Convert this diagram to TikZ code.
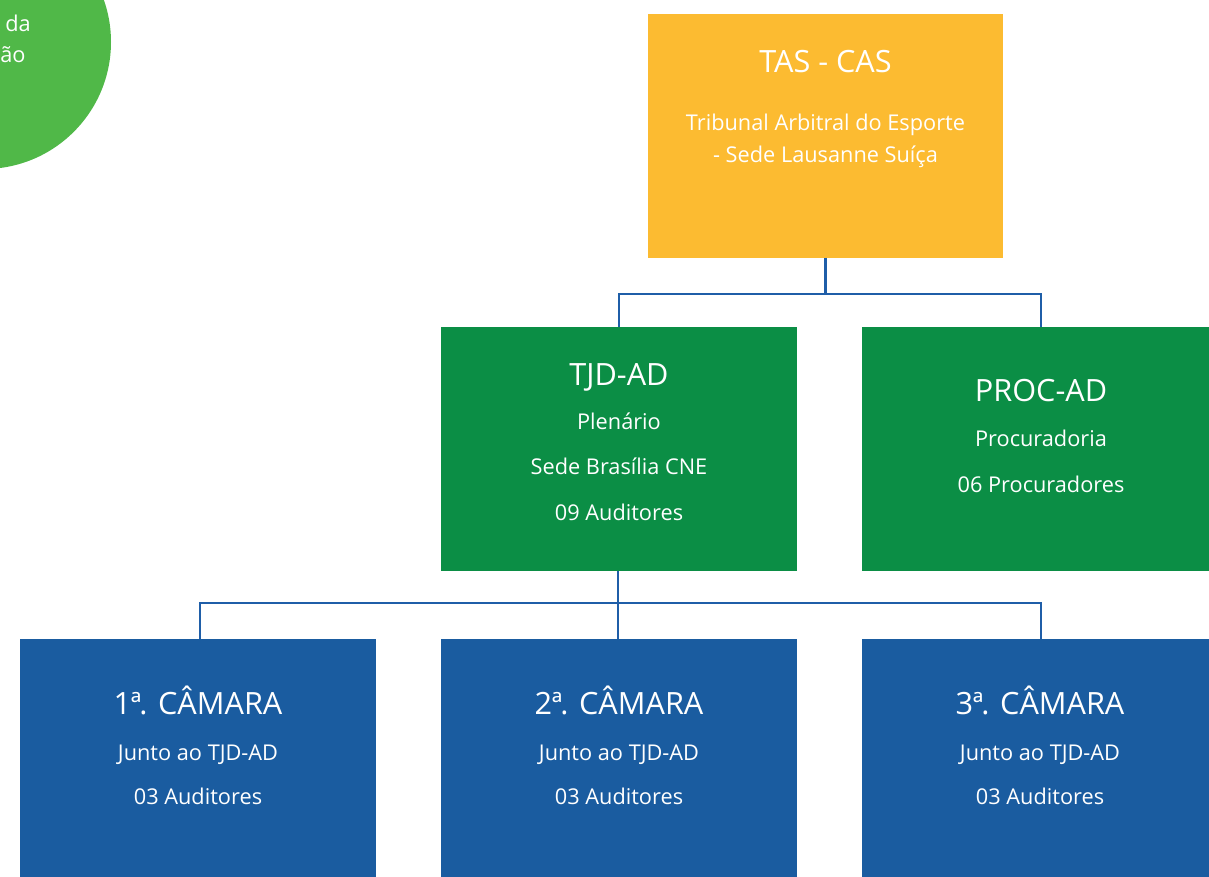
\documentclass[tikz,border=0pt]{standalone}
\usepackage{fontspec}
\setmainfont{Open Sans}
\definecolor{casyel}{HTML}{FCBB31}
\definecolor{tjdgreen}{HTML}{0B8E45}
\definecolor{camblue}{HTML}{1A5CA0}
\definecolor{circgreen}{HTML}{50B848}
\definecolor{linkblue}{HTML}{1F5EA8}
\newcommand{\ordA}{\kern-0.5pt ª\kern-1.5pt}
\begin{document}
\begin{tikzpicture}[x=0.75pt,y=-0.75pt,
  title/.style={text=white,inner sep=0pt,anchor=base,font=\fontsize{23}{26}\selectfont},
  sub/.style={text=white,inner sep=0pt,anchor=base,font=\fontsize{16.3}{19}\selectfont},
  link/.style={draw=linkblue,line width=2.2pt}]
\useasboundingbox (0,0) rectangle (1209,877);
\begin{scope}
\clip (0,0) rectangle (1209,877);
% green circle
\fill[circgreen] (-16,42) circle (127);
\node[sub,anchor=base east] (cda) at (31,32) {da};
\node[sub,anchor=base west] (cao) at (0,63) {ão};
% boxes
\fill[casyel] (648,14) rectangle (1003,258);
\coordinate (tasB) at (825.5,258);
\fill[tjdgreen] (441,327) rectangle (797,571);
\coordinate (tjdT) at (619,327);
\coordinate (tjdB) at (618,571);
\fill[tjdgreen] (862,327) rectangle (1218,571);
\coordinate (procT) at (1041,327);
\fill[camblue] (20,639) rectangle (376,900);
\coordinate (c1T) at (200,639);
\fill[camblue] (441,639) rectangle (797,900);
\coordinate (c2T) at (618,639);
\fill[camblue] (862,639) rectangle (1218,900);
\coordinate (c3T) at (1041,639);
% connectors
\coordinate (j1) at (825.5,294);
\coordinate (j2) at (618,603);
\draw[link] (tasB) -- (j1);
\draw[link] (tjdT) |- (j1) -| (procT);
\draw[link] (tjdB) -- (c2T);
\draw[link] (c1T) |- (j2) -| (c3T);
% texts
\node[title] (tas) at (825.5,73) {TAS - CAS};
\node[sub] (tas1) at (825.5,131) {Tribunal Arbitral do Esporte};
\node[sub] (tas2) at (825.5,163) {- Sede Lausanne Suíça};
\node[title] (tjd) at (619,385) {TJD-AD};
\node[sub] (tjd1) at (619,429) {Plenário};
\node[sub] (tjd2) at (619,474) {Sede Brasília CNE};
\node[sub] (tjd3) at (619,520) {09 Auditores};
\node[title] (proc) at (1041,401) {PROC-AD};
\node[sub] (proc1) at (1041,446) {Procuradoria};
\node[sub] (proc2) at (1041,492) {06 Procuradores};
\node[title] (c1) at (198,714) {1\ordA. CÂMARA};
\node[sub] (c1a) at (198,760) {Junto ao TJD-AD};
\node[sub] (c1b) at (198,804) {03 Auditores};
\node[title] (c2) at (619,714) {2\ordA. CÂMARA};
\node[sub] (c2a) at (619,760) {Junto ao TJD-AD};
\node[sub] (c2b) at (619,804) {03 Auditores};
\node[title] (c3) at (1040,714) {3\ordA. CÂMARA};
\node[sub] (c3a) at (1040,760) {Junto ao TJD-AD};
\node[sub] (c3b) at (1040,804) {03 Auditores};
\end{scope}
\end{tikzpicture}
\end{document}
